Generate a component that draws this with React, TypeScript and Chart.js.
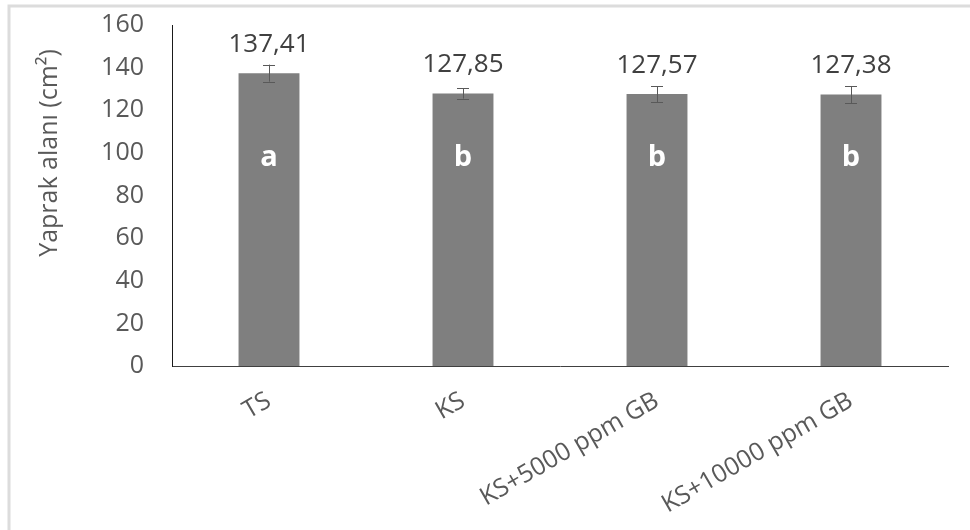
import React, { useEffect, useRef } from "react";
import { Chart, registerables } from "chart.js";

Chart.register(...registerables);

// Leaf area per treatment (mean ± error) with significance letters
const categories = ["TS", "KS", "KS+5000 ppm GB", "KS+10000 ppm GB"];
const means = [137.41, 127.85, 127.57, 127.38];
const errors = [4.0, 2.4, 3.7, 4.0];
const groupLetters = ["a", "b", "b", "b"];
const letterLevel = 97.5;
const yTicks = [0, 20, 40, 60, 80, 100, 120, 140, 160];
const yTitle = "Yaprak alanı (cm²)";

const FONT = "'Open Sans', 'Noto Sans', sans-serif";

const formatValue = (v: number) => v.toFixed(2).replace(".", ",");

const framePlugin = {
  id: "frame",
  beforeDraw(chart: any) {
    const { ctx, width, height } = chart;
    ctx.save();
    ctx.fillStyle = "#ffffff";
    ctx.fillRect(0, 0, width, height);
    ctx.strokeStyle = "#dcdcdc";
    ctx.lineWidth = 3;
    ctx.beginPath();
    ctx.moveTo(9, height);
    ctx.lineTo(9, 6);
    ctx.lineTo(width, 6);
    ctx.stroke();
    ctx.restore();
  },
};

const annotatePlugin = {
  id: "annotate",
  afterDatasetsDraw(chart: any) {
    const { ctx } = chart;
    const y = chart.scales.y;
    const meta = chart.getDatasetMeta(0);
    ctx.save();
    meta.data.forEach((bar: any, i: number) => {
      const x = bar.x;
      const top = y.getPixelForValue(means[i] + errors[i]);
      const bot = y.getPixelForValue(means[i] - errors[i]);
      // error bar
      ctx.strokeStyle = "#595959";
      ctx.lineWidth = 1;
      ctx.beginPath();
      ctx.moveTo(Math.round(x) + 0.5, top);
      ctx.lineTo(Math.round(x) + 0.5, bot);
      ctx.moveTo(x - 6, Math.round(top) + 0.5);
      ctx.lineTo(x + 6, Math.round(top) + 0.5);
      ctx.moveTo(x - 6, Math.round(bot) + 0.5);
      ctx.lineTo(x + 6, Math.round(bot) + 0.5);
      ctx.stroke();
      // value label
      ctx.fillStyle = "#404040";
      ctx.font = `26px ${FONT}`;
      ctx.textAlign = "center";
      ctx.textBaseline = "middle";
      ctx.fillText(formatValue(means[i]), x, bar.y - 29);
      // group letter
      ctx.fillStyle = "#ffffff";
      ctx.font = `bold 29px ${FONT}`;
      ctx.fillText(groupLetters[i], x, y.getPixelForValue(letterLevel));
    });
    // axis title
    ctx.translate(50, 153);
    ctx.rotate(-Math.PI / 2);
    ctx.fillStyle = "#595959";
    ctx.font = `25px ${FONT}`;
    ctx.textAlign = "center";
    ctx.textBaseline = "middle";
    ctx.fillText(yTitle, 0, 0);
    ctx.restore();
  },
};

export default function App() {
  const ref = useRef<HTMLCanvasElement | null>(null);

  useEffect(() => {
    document.body.style.margin = "0";
    if (!ref.current) return;
    const chart = new Chart(ref.current, {
      type: "bar",
      data: {
        labels: categories,
        datasets: [
          {
            data: means,
            backgroundColor: "#7f7f7f",
            borderWidth: 0,
            categoryPercentage: 1,
            barPercentage: 0.314,
          },
        ],
      },
      options: {
        animation: false,
        responsive: false,
        devicePixelRatio: 1,
        layout: { padding: { top: 25, right: 22, bottom: 0, left: 0 } },
        plugins: {
          legend: { display: false },
          tooltip: { enabled: false },
        },
        scales: {
          x: {
            grid: { display: false, drawTicks: false },
            border: { display: true, color: "#404040", width: 1 },
            ticks: {
              color: "#595959",
              font: { family: FONT, size: 25 },
              maxRotation: 30,
              minRotation: 30,
              padding: 20,
            },
            afterFit(scale: any) {
              scale.height = 164;
              scale.paddingLeft = 0;
              scale.paddingRight = 0;
            },
          },
          y: {
            min: 0,
            max: 160,
            afterBuildTicks(scale: any) {
              scale.ticks = yTicks.map((v) => ({ value: v }));
            },
            grid: { display: false, drawTicks: false },
            border: { display: true, color: "#1a1a1a", width: 1 },
            ticks: {
              color: "#595959",
              font: { family: FONT, size: 25 },
              padding: 28,
            },
            afterFit(scale: any) {
              scale.width = 172;
              scale.paddingTop = 0;
              scale.paddingBottom = 0;
            },
          },
        },
      },
      plugins: [framePlugin, annotatePlugin],
    });
    return () => chart.destroy();
  }, []);

  return (
    <div style={{ width: 970, height: 530 }}>
      <canvas ref={ref} width={970} height={530} style={{ display: "block" }} />
    </div>
  );
}
